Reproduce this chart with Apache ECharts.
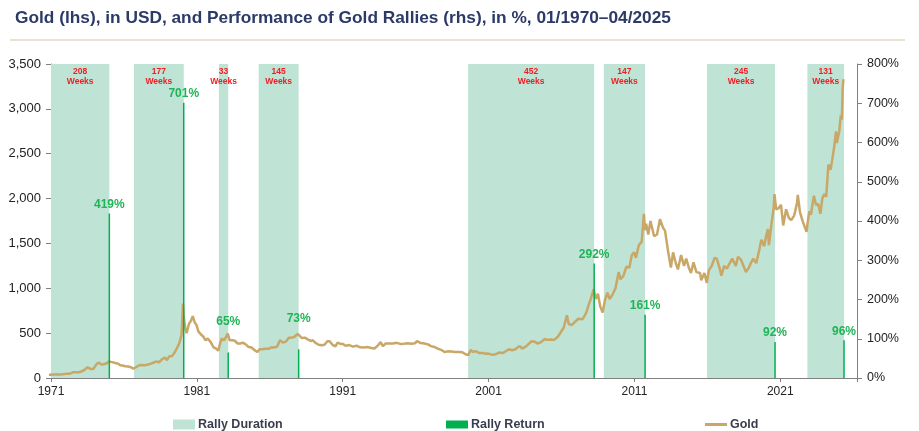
<!DOCTYPE html>
<html><head><meta charset="utf-8">
<script src="https://cdn.jsdelivr.net/npm/echarts@6/dist/echarts.min.js"></script>
<style>html,body{margin:0;padding:0;background:#fff}#c{width:919px;height:431px}</style>
</head><body><div id="c"></div>
<script>
// ---- data ----
const axisStartYear = 1971;
const axisEndYear = 2026.26;
const xTickLabels = ['1971', '1981', '1991', '2001', '2011', '2021'];

const rallyStart  = [1971.00, 1976.69, 1982.51, 1985.24, 1999.60, 2008.90, 2015.98, 2022.86];
const rallyEnd    = [1975.00, 1980.10, 1983.15, 1987.98, 2008.24, 2011.73, 2020.64, 2025.37];
const rallyWeeks  = [208, 177, 33, 145, 452, 147, 245, 131];
const rallyReturn = [419, 701, 65, 73, 292, 161, 92, 96];

const goldDates = [
1970.0,1970.5,1970.9,1971.2,1971.5,1971.8,1972.0,1972.3,1972.5,1972.7,1972.9,
1973.1,1973.3,1973.5,1973.7,1973.9,1974.0,1974.15,1974.3,1974.45,1974.6,1974.8,1974.95,
1975.05,1975.2,1975.4,1975.6,1975.75,1975.9,1976.1,1976.3,1976.5,1976.65,1976.8,1976.95,
1977.15,1977.4,1977.6,1977.85,1978.0,1978.2,1978.4,1978.6,1978.8,1978.95,
1979.1,1979.3,1979.5,1979.7,1979.8,1979.95,1980.05,1980.1,1980.2,1980.3,1980.45,1980.6,1980.72,1980.85,1980.98,
1981.1,1981.25,1981.45,1981.6,1981.75,1981.95,1982.15,1982.3,1982.47,1982.6,1982.7,1982.85,1982.98,
1983.12,1983.25,1983.45,1983.6,1983.8,1983.98,1984.15,1984.35,1984.55,1984.75,1984.95,
1985.15,1985.3,1985.5,1985.7,1985.9,1986.1,1986.3,1986.5,1986.7,1986.9,
1987.1,1987.3,1987.5,1987.7,1987.9,1988.05,1988.2,1988.4,1988.6,1988.8,1988.95,
1989.15,1989.35,1989.55,1989.75,1989.95,1990.1,1990.3,1990.5,1990.65,1990.85,
1991.0,1991.2,1991.45,1991.7,1991.95,1992.2,1992.45,1992.7,1992.95,
1993.2,1993.45,1993.6,1993.75,1993.95,1994.2,1994.45,1994.7,1994.95,
1995.2,1995.45,1995.7,1995.95,1996.1,1996.35,1996.6,1996.85,
1997.05,1997.3,1997.55,1997.8,1997.98,1998.2,1998.45,1998.7,1998.95,
1999.2,1999.45,1999.6,1999.78,1999.92,2000.1,2000.35,2000.6,2000.8,2000.98,
2001.2,2001.35,2001.55,2001.75,2001.95,2002.15,2002.4,2002.6,2002.85,
2003.0,2003.15,2003.3,2003.55,2003.75,2003.95,2004.15,2004.35,2004.6,2004.85,
2005.0,2005.25,2005.5,2005.75,2005.95,2006.15,2006.37,2006.5,2006.7,2006.95,
2007.15,2007.45,2007.7,2007.85,2008.0,2008.21,2008.35,2008.5,2008.65,2008.82,2008.98,
2009.15,2009.3,2009.5,2009.7,2009.92,2010.05,2010.25,2010.45,2010.65,2010.82,2010.98,
2011.1,2011.3,2011.5,2011.65,2011.72,2011.8,2011.95,2012.1,2012.35,2012.55,2012.75,2012.95,
2013.1,2013.3,2013.5,2013.65,2013.8,2013.98,2014.2,2014.4,2014.55,2014.75,2014.88,
2015.05,2015.25,2015.5,2015.58,2015.8,2015.96,2016.1,2016.3,2016.5,2016.65,2016.85,2016.96,
2017.15,2017.35,2017.5,2017.7,2017.95,2018.1,2018.3,2018.55,2018.65,2018.85,2018.98,
2019.15,2019.35,2019.55,2019.7,2019.9,2020.0,2020.15,2020.22,2020.4,2020.55,2020.6,2020.72,2020.87,2020.97,
2021.05,2021.2,2021.4,2021.6,2021.75,2021.95,2022.15,2022.2,2022.35,2022.55,2022.8,2022.9,
2023.0,2023.1,2023.3,2023.45,2023.6,2023.75,2023.88,2024.0,2024.15,2024.3,2024.45,2024.55,2024.7,2024.82,2024.88,2024.97,
2025.05,2025.15,2025.22,2025.28,2025.33
];
const goldPrices = [
35,35.3,37.4,38.9,40.1,42,46,48.5,63,65,63.8,
73,90,120,101,100,118,160,170,150,153,162,183,
176,177,167,160,142,139,132,128,118,104,117,134,
146,143,148,160,170,183,176,206,228,200,
240,245,290,355,390,480,830,680,560,500,600,640,690,620,590,
520,490,460,420,440,400,340,330,305,390,440,420,450,
495,420,420,415,385,385,395,375,345,340,310,
290,320,320,325,325,340,340,350,420,395,
405,450,450,460,490,470,445,450,430,413,420,
390,370,365,370,410,410,370,352,395,380,
380,360,367,350,360,342,341,345,335,
330,370,400,355,385,385,385,392,380,
382,387,383,387,410,390,385,375,
355,345,325,310,289,297,295,289,291,
287,262,255,315,290,300,280,280,270,272,
262,258,270,285,277,295,320,310,320,
345,355,328,350,380,410,405,385,400,435,
425,430,425,460,510,560,700,600,590,630,
660,655,730,810,880,990,880,940,800,730,870,
950,880,930,1000,1180,1100,1140,1240,1230,1370,1400,
1340,1480,1520,1830,1650,1720,1600,1750,1580,1600,1770,1680,
1640,1420,1230,1400,1300,1210,1370,1250,1330,1220,1170,
1290,1180,1170,1090,1170,1060,1200,1250,1340,1330,1220,1140,
1250,1220,1270,1330,1250,1350,1320,1220,1180,1230,1280,
1330,1280,1420,1540,1470,1560,1660,1480,1720,1900,2050,1880,1890,1870,
1930,1700,1880,1780,1760,1810,1950,2040,1850,1740,1630,1760,
1860,1820,2030,1930,1940,1830,2000,2050,2020,2380,2320,2420,2580,2750,2620,2630,
2760,2930,2880,3230,3330
];

// ---- chart ----
const FONT = "'Liberation Sans', Arial, sans-serif";
const off = y => y - axisStartYear;

const chart = echarts.init(document.getElementById('c'), null, {renderer: 'canvas'});
const legendText = {fontFamily: FONT, fontSize: 12.5, fontWeight: 'bold', color: '#3a3d4e', padding: [0, 0, 0, -2]};

// labels of the two small 1980s rallies are lifted above the gold line, as in the original
const liftedLabel = i => (i === 2 || i === 3) ? {label: {offset: [0, -22]}} : {};

chart.setOption({
  animation: false,
  backgroundColor: '#fff',
  title: {
    text: 'Gold (lhs), in USD, and Performance of Gold Rallies (rhs), in %, 01/1970\u201304/2025',
    left: 10, top: 5,
    textStyle: {fontFamily: FONT, fontSize: 17.3, fontWeight: 'bold', color: '#2b3a67'}
  },
  graphic: [{
    type: 'line', shape: {x1: 10, y1: 40, x2: 905, y2: 40},
    style: {stroke: '#e2d8c2', lineWidth: 1.5}, silent: true
  }],
  grid: {left: 51, right: 62, top: 64, bottom: 53, containLabel: false},
  legend: [
    {data: ['Rally Duration'], left: 168, top: 413, icon: 'rect', itemWidth: 22, itemHeight: 10, textStyle: legendText},
    {data: ['Rally Return'], left: 441, top: 413, icon: 'rect', itemWidth: 22, itemHeight: 8, textStyle: legendText},
    {data: ['Gold'], left: 700, top: 413, icon: 'rect', itemWidth: 22, itemHeight: 3, textStyle: legendText}
  ],
  xAxis: {
    type: 'value', min: 0, max: off(axisEndYear), interval: 10,
    axisLine: {show: true, lineStyle: {color: '#808080', width: 1}},
    axisTick: {show: true, length: 4, lineStyle: {color: '#808080'}},
    splitLine: {show: false},
    axisLabel: {
      fontFamily: FONT, fontSize: 12, color: '#222', margin: 8,
      formatter: v => (Math.abs(v % 10) < 1e-6 ? (xTickLabels[Math.round(v / 10)] || '') : '')
    }
  },
  yAxis: [
    {
      type: 'value', min: 0, max: 3500, interval: 500, position: 'left',
      axisLine: {show: true, lineStyle: {color: '#808080'}},
      axisTick: {show: true, length: 5, lineStyle: {color: '#808080'}},
      splitLine: {show: false},
      axisLabel: {fontFamily: FONT, fontSize: 13, color: '#222', margin: 10,
        formatter: v => v.toLocaleString('en-US')}
    },
    {
      type: 'value', min: 0, max: 800, interval: 100, position: 'right',
      axisLine: {show: true, lineStyle: {color: '#808080'}},
      axisTick: {show: true, length: 5, lineStyle: {color: '#808080'}},
      splitLine: {show: false},
      axisLabel: {fontFamily: FONT, fontSize: 12.5, color: '#222', margin: 10,
        formatter: '{value}%'}
    }
  ],
  series: [
    {
      name: 'Rally Duration', type: 'line', data: [], z: 1,
      symbol: 'none',
      itemStyle: {color: '#bfe3d5'}, lineStyle: {color: '#bfe3d5'},
      markArea: {
        silent: true, z: 1,
        itemStyle: {color: '#bfe3d5', opacity: 1},
        label: {show: true, position: 'insideTop', distance: 2, color: '#f01e23',
          fontFamily: FONT, fontSize: 8.5, fontWeight: 'bold', lineHeight: 10.5, align: 'center'},
        data: rallyStart.map((s, i) => [
          {xAxis: off(s), name: rallyWeeks[i] + '\nWeeks'},
          {xAxis: off(rallyEnd[i])}
        ])
      }
    },
    {
      name: 'Rally Return', type: 'bar', yAxisIndex: 1, z: 5, barWidth: 1.5,
      itemStyle: {color: '#00b050'},
      label: {show: true, position: 'top', distance: 3, color: '#1fb456',
        fontFamily: FONT, fontSize: 12, fontWeight: 'bold',
        formatter: p => p.value[1] + '%'},
      data: rallyEnd.map((e, i) => Object.assign({value: [off(e), rallyReturn[i]]}, liftedLabel(i)))
    },
    {
      name: 'Gold', type: 'line', yAxisIndex: 0, z: 4,
      symbol: 'none', showSymbol: false,
      lineStyle: {color: '#c8a767', width: 2.5},
      itemStyle: {color: '#c8a767'},
      data: goldDates.map((d, i) => [off(d), goldPrices[i]])
    }
  ]
});
</script></body></html>
